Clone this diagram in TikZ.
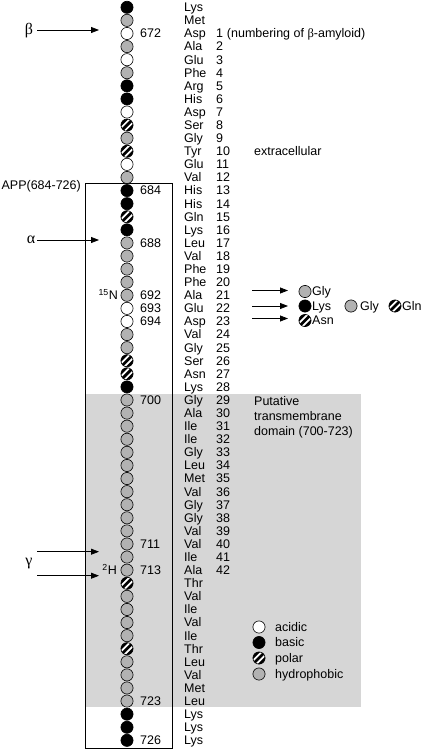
\documentclass[tikz,border=0pt]{standalone}
\usepackage{fontspec}
\setmainfont{Liberation Sans}
\newfontfamily\grk{Liberation Serif}
\usetikzlibrary{arrows.meta}
\definecolor{hydcol}{HTML}{B2B2B2}
\definecolor{tmcol}{HTML}{D6D6D6}
\tikzset{
  res/.style={circle, draw=black, line width=0.6pt, minimum size=12.2pt, inner sep=0pt},
  acid/.style={res, fill=white},
  basic/.style={res, fill=black},
  hydro/.style={res, fill=hydcol},
  polar/.style={res, fill=black, path picture={
      \draw[white, line width=1.7pt, shift={(path picture bounding box.center)}]
        (-8.3pt,-11.7pt) -- (11.7pt,8.3pt)
        (-11.7pt,-8.3pt) -- (8.3pt,11.7pt);}},
  txt/.style={inner sep=0pt, font=\fontsize{12.5}{14.5}\selectfont},
  gk/.style={inner sep=0pt, font=\grk\fontsize{16}{18}\selectfont},
  arr/.style={line width=0.8pt, -{Triangle[length=8pt,width=6pt]}},
}
\begin{document}
\begin{tikzpicture}[x=1pt, y=-1pt]
\useasboundingbox (0,0) rectangle (426,750);
% transmembrane shading and APP box
\fill[tmcol] (85,394) rectangle (361,707);
\draw[line width=0.8pt] (85,183) rectangle (172,748);
\node[txt, anchor=east] (app) at (81,186) {APP(684-726)};
% residues
\foreach \i/\num/\nm/\cls in {
 0/670/Lys/basic, 1/671/Met/hydro, 2/672/Asp/acid, 3/673/Ala/hydro,
 4/674/Glu/acid, 5/675/Phe/hydro, 6/676/Arg/basic, 7/677/His/basic,
 8/678/Asp/acid, 9/679/Ser/polar, 10/680/Gly/hydro, 11/681/Tyr/polar,
 12/682/Glu/acid, 13/683/Val/hydro, 14/684/His/basic, 15/685/His/basic,
 16/686/Gln/polar, 17/687/Lys/basic, 18/688/Leu/hydro, 19/689/Val/hydro,
 20/690/Phe/hydro, 21/691/Phe/hydro, 22/692/Ala/hydro, 23/693/Glu/acid,
 24/694/Asp/acid, 25/695/Val/hydro, 26/696/Gly/hydro, 27/697/Ser/polar,
 28/698/Asn/polar, 29/699/Lys/basic, 30/700/Gly/hydro, 31/701/Ala/hydro,
 32/702/Ile/hydro, 33/703/Ile/hydro, 34/704/Gly/hydro, 35/705/Leu/hydro,
 36/706/Met/hydro, 37/707/Val/hydro, 38/708/Gly/hydro, 39/709/Gly/hydro,
 40/710/Val/hydro, 41/711/Val/hydro, 42/712/Ile/hydro, 43/713/Ala/hydro,
 44/714/Thr/polar, 45/715/Val/hydro, 46/716/Ile/hydro, 47/717/Val/hydro,
 48/718/Ile/hydro, 49/719/Thr/polar, 50/720/Leu/hydro, 51/721/Val/hydro,
 52/722/Met/hydro, 53/723/Leu/hydro, 54/724/Lys/basic, 55/725/Lys/basic,
 56/726/Lys/basic}{
  \pgfmathsetmacro\yy{7.3+13.09*\i}
  \node[\cls] (r\num) at (127,\yy) {};
  \node[txt, anchor=base west] (t\num) at (184,\yy+4.4) {\nm};
}
% beta-amyloid numbering
\foreach \k in {1,...,42}{
  \pgfmathsetmacro\yy{7.3+13.09*(\k+1)}
  \node[txt, anchor=base west] (b\k) at (216,\yy+4.4) {\k};
}
\node[txt, anchor=base west] (numnote) at ([xshift=3.4pt]b1.base east) {(numbering of {\grk β}-amyloid)};
% position labels
\foreach \i/\num/\xx in {2/672/140, 14/684/140, 18/688/140, 22/692/140, 23/693/140,
  24/694/140, 30/700/140, 41/711/140, 43/713/140, 53/723/140, 56/726/140}{
  \pgfmathsetmacro\yy{7.3+13.09*\i}
  \node[txt, anchor=base west] (p\num) at (\xx,\yy+4.4) {\num};
}
\node[txt, anchor=base east] (iso15) at (118,295.3+4.4) {\textsuperscript{15}N};
\node[txt, anchor=base east] (iso2) at (117,570.2+4.4) {\textsuperscript{2}H};
% annotations
\node[txt, anchor=base west] (extra) at (254,151.3+4.4) {extracellular};
\node[txt, anchor=base west] (tm1) at (254,401+4.4) {Putative};
\node[txt, anchor=base west] (tm2) at (254,416+4.4) {transmembrane};
\node[txt, anchor=base west] (tm3) at (254,431+4.4) {domain (700-723)};
% secretase arrows
\node[gk] (beta) at (29,31) {β};
\coordinate (bs) at (37,30); \coordinate (be) at (99,30);
\draw[arr] (bs) -- (be);
\node[gk] (alpha) at (31,240) {α};
\coordinate (as) at (37,240); \coordinate (ae) at (99,240);
\draw[arr] (as) -- (ae);
\node[gk] (gamma) at (29,564) {γ};
\coordinate (g1s) at (37,551.7); \coordinate (g1e) at (99,551.7);
\coordinate (g2s) at (37,575.7); \coordinate (g2e) at (99,575.7);
\draw[arr] (g1s) -- (g1e);
\draw[arr] (g2s) -- (g2e);
% mutations
\coordinate (m1s) at (252,290.5); \coordinate (m1e) at (288,290.5);
\coordinate (m2s) at (252,306); \coordinate (m2e) at (288,306);
\coordinate (m3s) at (252,318.5); \coordinate (m3e) at (288,318.5);
\draw[arr] (m1s) -- (m1e);
\draw[arr] (m2s) -- (m2e);
\draw[arr] (m3s) -- (m3e);
\node[hydro] (mc1) at (305,291.5) {};
\node[txt, anchor=base west] (mt1) at (312,291.5+4.4) {Gly};
\node[basic] (mc2) at (305,306) {};
\node[txt, anchor=base west] (mt2) at (312,306+4.4) {Lys};
\node[hydro] (mc3) at (351,306) {};
\node[txt, anchor=base west] (mt3) at (360,306+4.4) {Gly};
\node[polar] (mc4) at (395,306) {};
\node[txt, anchor=base west] (mt4) at (402,306+4.4) {Gln};
\node[polar] (mc5) at (305,320.5) {};
\node[txt, anchor=base west] (mt5) at (312,320.5+4.4) {Asn};
% legend
\node[acid] (l1) at (259,627) {};
\node[txt, anchor=base west] (lt1) at (275,627+4.4) {acidic};
\node[basic] (l2) at (259,642.5) {};
\node[txt, anchor=base west] (lt2) at (275,642.5+4.4) {basic};
\node[polar] (l3) at (259,658) {};
\node[txt, anchor=base west] (lt3) at (275,658+4.4) {polar};
\node[hydro] (l4) at (259,674) {};
\node[txt, anchor=base west] (lt4) at (275,674+4.4) {hydrophobic};
\end{tikzpicture}
\end{document}
